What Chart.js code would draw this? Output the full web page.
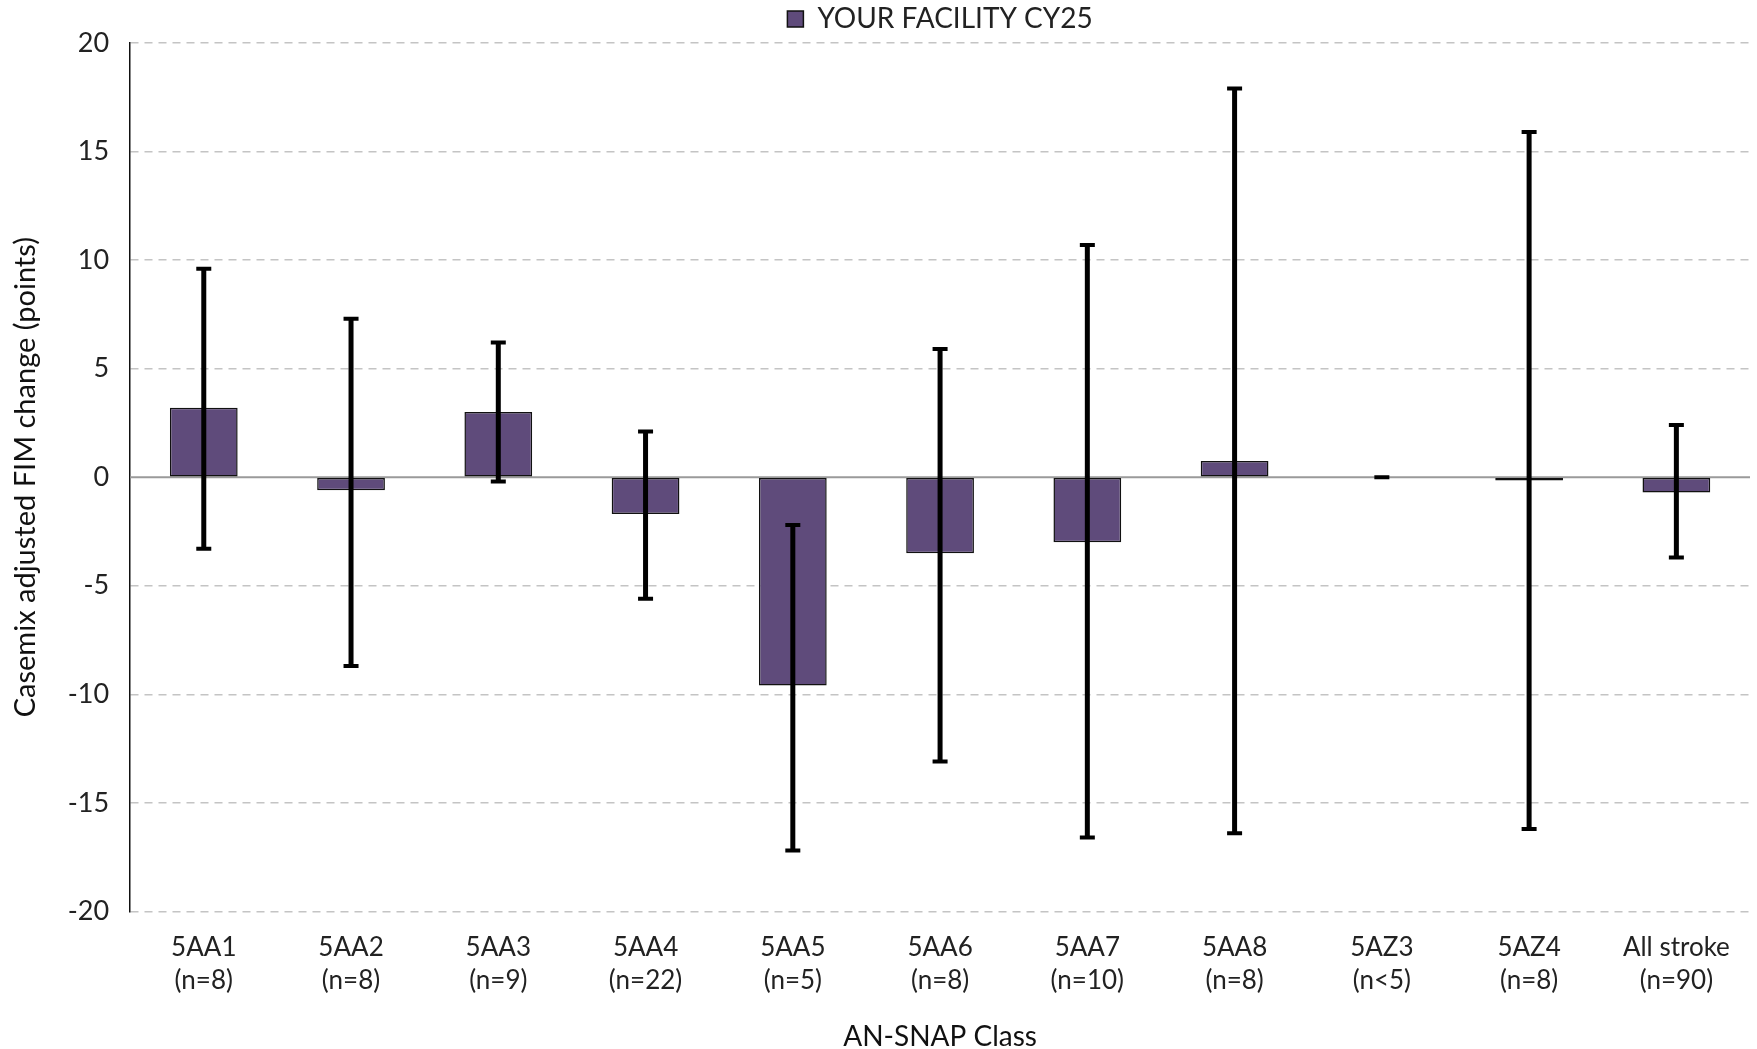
<!DOCTYPE html>
<html>
<head>
<meta charset="utf-8">
<script src="https://cdn.jsdelivr.net/npm/chart.js@4.4.0/dist/chart.umd.min.js"></script>
<style>
  html, body { margin: 0; padding: 0; background: #fff; }
  #wrap { width: 1757px; height: 1049px; }
</style>
</head>
<body>
<div id="wrap"><canvas id="chart" width="1757" height="1049"></canvas></div>
<script>
// AN-SNAP classes with sample sizes
const classes = ["5AA1", "5AA2", "5AA3", "5AA4", "5AA5", "5AA6", "5AA7", "5AA8", "5AZ3", "5AZ4", "All stroke"];
const counts = ["(n=8)", "(n=8)", "(n=9)", "(n=22)", "(n=5)", "(n=8)", "(n=10)", "(n=8)", "(n<5)", "(n=8)", "(n=90)"];

// casemix adjusted FIM change and its interval
const fimChange = [3.2, -0.6, 3.0, -1.7, -9.6, -3.5, -3.0, 0.75, null, -0.15, -0.7];
const errHigh = [9.6, 7.3, 6.2, 2.1, -2.2, 5.9, 10.7, 17.9, 0, 15.9, 2.4];
const errLow = [-3.3, -8.7, -0.2, -5.6, -17.2, -13.1, -16.6, -16.4, 0, -16.2, -3.7];

const yTicks = [-20, -15, -10, -5, 0, 5, 10, 15, 20];

const FONT = "Lato, 'Open Sans', sans-serif";
const barColor = "#5F4B7B";

// zero line + error bars, drawn with the chart's own scales
const errorBarPlugin = {
  id: "errorBars",
  beforeDatasetsDraw(chart) {
    const { ctx, chartArea, scales } = chart;
    const y0 = scales.y.getPixelForValue(0);
    ctx.save();
    ctx.strokeStyle = "#9a9a9a";
    ctx.lineWidth = 2;
    ctx.beginPath();
    ctx.moveTo(chartArea.left, y0);
    ctx.lineTo(chartArea.right, y0);
    ctx.stroke();
    ctx.restore();
  },
  afterDatasetsDraw(chart) {
    const { ctx, scales } = chart;
    ctx.save();
    ctx.strokeStyle = "#000";
    ctx.lineCap = "butt";
    classes.forEach((c, i) => {
      const x = scales.x.getPixelForValue(i);
      const yh = scales.y.getPixelForValue(errHigh[i]);
      const yl = scales.y.getPixelForValue(errLow[i]);
      ctx.lineWidth = 5;
      ctx.beginPath();
      ctx.moveTo(x, yh);
      ctx.lineTo(x, yl);
      ctx.stroke();
      ctx.lineWidth = 4;
      ctx.beginPath();
      ctx.moveTo(x - 7.5, yh);
      ctx.lineTo(x + 7.5, yh);
      ctx.moveTo(x - 7.5, yl);
      ctx.lineTo(x + 7.5, yl);
      ctx.stroke();
    });
    ctx.restore();
  }
};

new Chart(document.getElementById("chart").getContext("2d"), {
  type: "bar",
  data: {
    labels: classes.map((c, i) => [c, counts[i]]),
    datasets: [{
      label: "YOUR FACILITY CY25",
      data: fimChange,
      backgroundColor: barColor,
      borderColor: "#111",
      borderWidth: 1.5,
      borderSkipped: false,
      categoryPercentage: 1,
      barPercentage: 0.46
    }]
  },
  options: {
    responsive: false,
    animation: false,
    layout: { padding: { top: -16, right: 7, left: 8, bottom: -5 } },
    plugins: {
      tooltip: { enabled: false },
      legend: {
        display: true,
        position: "top",
        fullSize: false,
        labels: {
          color: "#222",
          font: { family: FONT, size: 28 },
          boxWidth: 16,
          boxHeight: 16,
          padding: 21,
          generateLabels: () => [{
            text: "YOUR FACILITY CY25",
            fillStyle: barColor,
            strokeStyle: "#111",
            lineWidth: 1.5,
            fontColor: "#222"
          }]
        }
      }
    },
    scales: {
      x: {
        grid: { display: false },
        border: { display: false },
        ticks: {
          color: "#222",
          font: { family: FONT, size: 26, lineHeight: 1.25 },
          padding: 12,
          maxRotation: 0,
          autoSkip: false
        },
        title: {
          display: true,
          text: "AN-SNAP Class",
          color: "#111",
          font: { family: FONT, size: 28 },
          padding: { top: 12, bottom: 0 }
        }
      },
      y: {
        min: -20,
        max: 20,
        afterBuildTicks: (axis) => { axis.ticks = yTicks.map(v => ({ value: v })); },
        grid: {
          color: (c) => c.tick && c.tick.value === 0 ? "rgba(0,0,0,0)" : "#c4c4c4",
          lineWidth: 1.5,
          drawTicks: false
        },
        border: { display: true, color: "#111", width: 1.5, dash: [8, 6] },
        ticks: {
          color: "#222",
          font: { family: FONT, size: 27 },
          padding: 21
        },
        title: {
          display: true,
          text: "Casemix adjusted FIM change (points)",
          color: "#111",
          font: { family: FONT, size: 29 },
          padding: { top: 0, bottom: 4 }
        }
      }
    }
  },
  plugins: [errorBarPlugin]
});
</script>
</body>
</html>
